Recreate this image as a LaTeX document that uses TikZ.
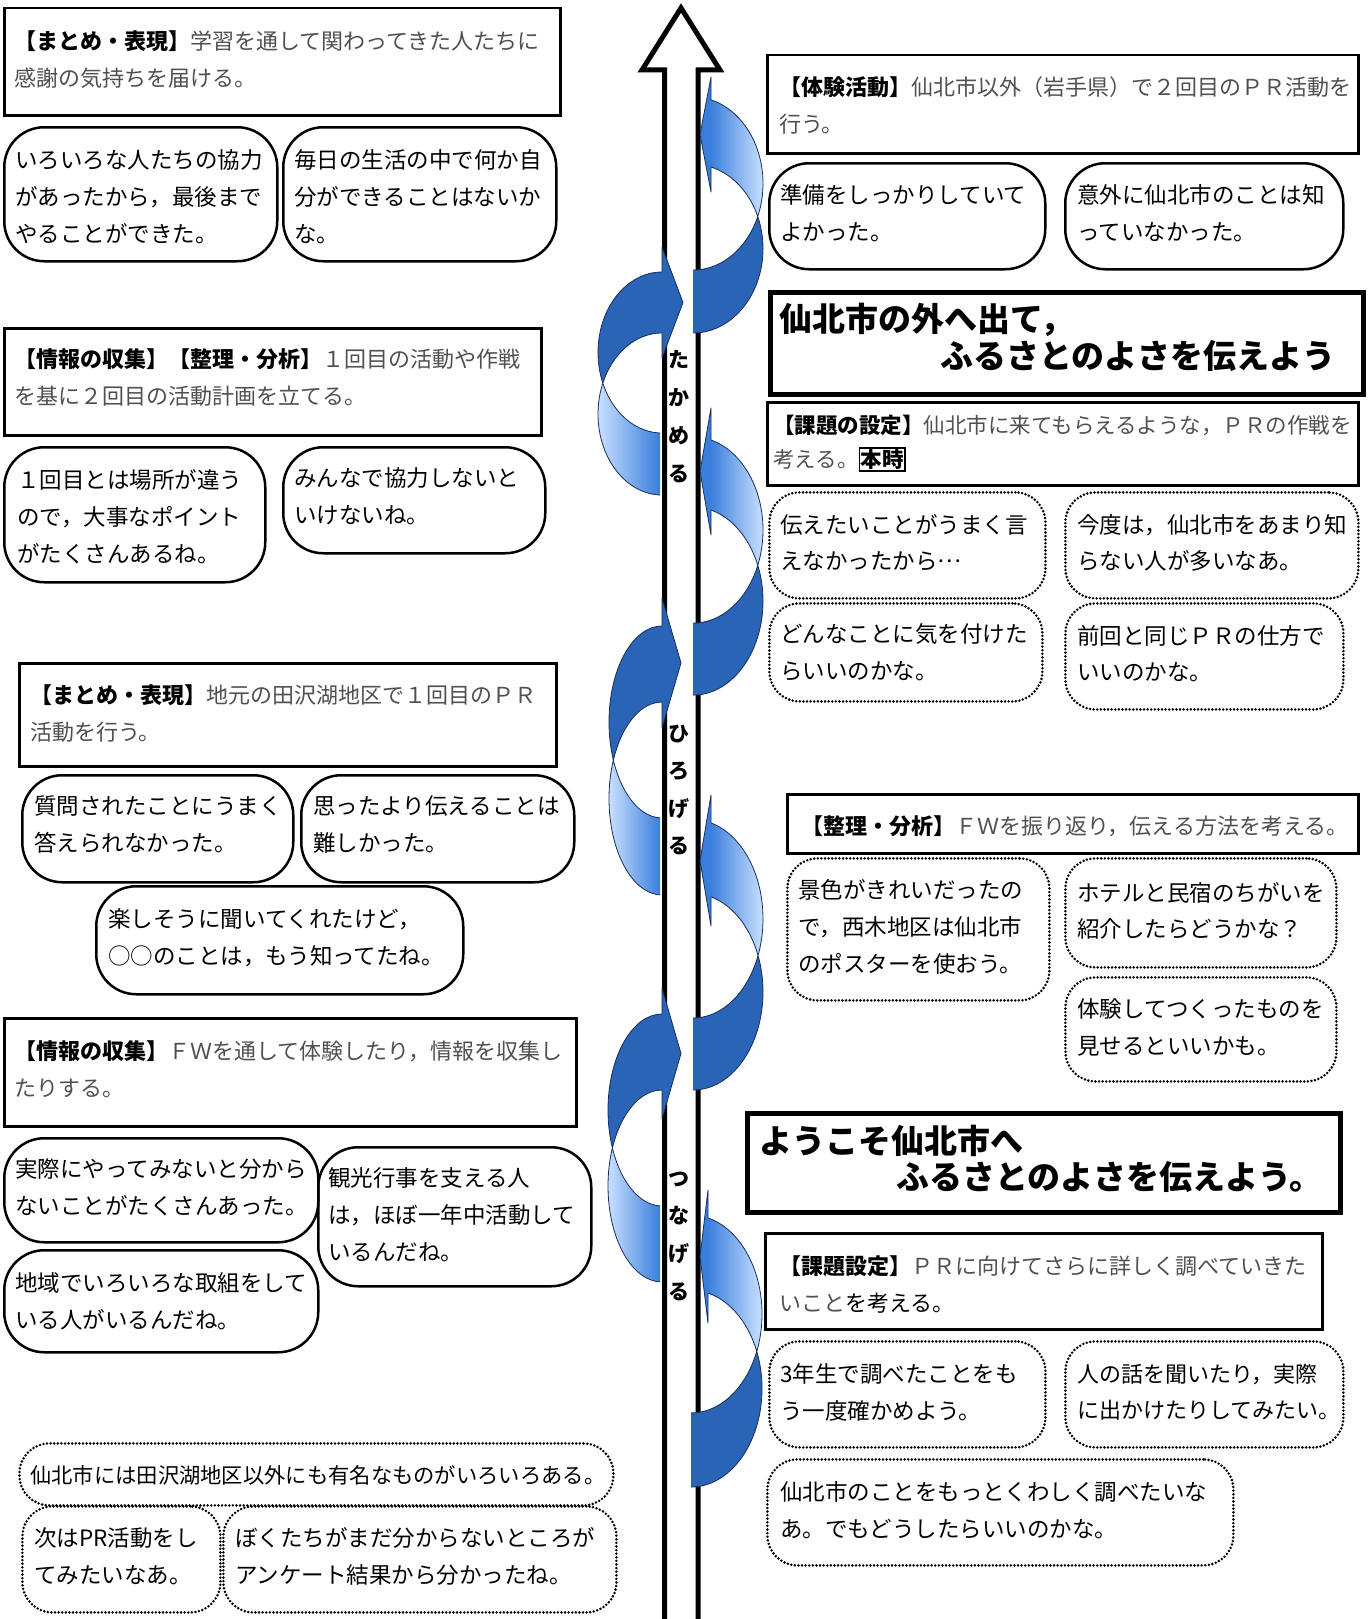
\documentclass[tikz,border=0pt]{standalone}
\usepackage{fontspec}
\setmainfont{Noto Sans CJK JP}
\definecolor{dkb}{RGB}{41,100,182}
\definecolor{stb}{RGB}{58,126,220}
\definecolor{ltb}{RGB}{200,224,255}
\definecolor{olc}{RGB}{25,45,90}
\definecolor{desc}{RGB}{80,80,80}
\newcommand\myfs[2]{\fontsize{#1}{#2}\selectfont}
\newcommand\myst{\rule{0pt}{0.95em}}
\newcommand\mylab[1]{{\bfseries\color{black}#1}}
\newcommand\bx[6]{\node[#1, minimum width=#5pt, minimum height=#6pt, anchor=north west, inner sep=0pt] (#2) at (#3,#4) {};}
\newcommand\tn[5]{\node[#1] (#2) at (#3,#4) {\myst #5};}
\newcommand\setarw[8]{\def\aL{#1}\def\aW{#2}\def\aCa{#3}\def\aRa{#4}\def\aCb{#5}\def\aRb{#6}\def\aXh{#7}\def\aXt{#8}}
\newcommand\eA{(\aL,\aCa) ellipse [x radius=\aW*1pt, y radius=\aRa*1pt]}
\newcommand\eB{(\aL,\aCb) ellipse [x radius=\aW*1pt, y radius=\aRb*1pt]}
\newcommand\rarw[4]{%
 \filldraw[fill=stb, draw=olc, line width=0.8pt, line join=round] (\aXh,#1) -- (#3,{(#1+#2)/2}) -- (\aXh,#2) -- cycle;
 \begin{scope}[even odd rule]
  \clip (\aXh-0.8,0) rectangle (900,1700);
  \clip \eA;
  \clip (500,0) rectangle (900,1700) \eB;
  \shade[left color=stb, right color=ltb] (\aXh-0.8,0) rectangle ({\aL+\aW},1700);
 \end{scope}
 \begin{scope}[even odd rule]
  \clip (\aXt,0) rectangle (900,1700);
  \clip \eB;
  \clip (500,0) rectangle (900,1700) \eA;
  \fill[dkb] (\aXt,0) rectangle (900,1700);
 \end{scope}
 \begin{scope}
  \clip (\aXh,0) rectangle (900,#4) (\aXt,#4) rectangle (900,1700);
  \draw[olc, line width=0.8pt] \eA \eB;
 \end{scope}
}
\newcommand\larw[4]{%
 \filldraw[fill=dkb, draw=olc, line width=0.8pt, line join=round] (\aXh,#1) -- (#3,{(#1+#2)/2}) -- (\aXh,#2) -- cycle;
 \begin{scope}[even odd rule]
  \clip (400,0) rectangle (\aXh+0.8,1700);
  \clip \eA;
  \clip (400,0) rectangle (800,1700) \eB;
  \fill[dkb] (400,0) rectangle (\aXh+0.8,1700);
 \end{scope}
 \begin{scope}[even odd rule]
  \clip (400,0) rectangle (\aXt,1700);
  \clip \eB;
  \clip (400,0) rectangle (800,1700) \eA;
  \shade[left color=ltb, right color=stb] ({\aL-\aW},0) rectangle (\aXt,1700);
 \end{scope}
 \begin{scope}
  \clip (400,0) rectangle (\aXh,#4) (400,#4) rectangle (\aXt,1700);
  \draw[olc, line width=0.8pt] \eA \eB;
 \end{scope}
}
\tikzset{
 rbox/.style={draw, line width=2.5pt},
 bub/.style={draw, line width=2.5pt, rounded corners=40pt},
 dbub/.style={draw, line width=2.8pt, dash pattern=on 0pt off 3.6pt, line cap=round, rounded corners=30pt},
 tbox/.style={draw, line width=5pt},
 tx/.style={anchor=north west, inner sep=0pt, align=left, font={\myfs{22.5}{37}}},
 dx/.style={anchor=north west, inner sep=0pt, align=left, text=desc, font={\myfs{22}{37}}},
 px/.style={anchor=north west, inner sep=0pt, align=left, font={\myfs{22.5}{36.5}}},
 ttl/.style={anchor=north west, inner sep=0pt, align=left, font={\bfseries\myfs{33}{37}}},
 vt/.style={anchor=north, inner sep=0pt, align=center, font={\bfseries\myfs{21}{38}}},
}
\begin{document}
\begin{tikzpicture}[x=1pt,y=-1pt]
\useasboundingbox (0,0) rectangle (1368,1619);
\fill[white] (0,0) rectangle (1368,1619);

% ---------- left column boxes ----------
\bx{rbox}{m1}{3}{7}{556}{107}
\bx{bub}{bA}{3}{126}{273}{134}
\bx{bub}{bB}{282}{126}{273}{134}
\bx{rbox}{m2}{3}{327}{537}{107}
\bx{bub}{bC}{3}{446}{261}{135}
\bx{bub}{bD}{282}{446}{262}{106}
\bx{rbox}{m3}{18}{662}{537}{103}
\bx{bub}{bE}{21}{774}{271}{107}
\bx{bub}{bF}{300}{774}{273}{107}
\bx{bub}{bG}{95}{885}{367}{108}
\bx{rbox}{m4}{3}{1017}{572}{108}
\bx{bub}{bH}{3}{1137}{314}{104}
\bx{bub}{bI}{317}{1146}{273}{139}
\bx{bub}{bJ}{3}{1249}{314}{102}
\bx{dbub}{dK}{18}{1442}{594}{62}
\bx{dbub}{dL}{21}{1505}{198}{106}
\bx{dbub}{dM}{222}{1505}{393}{106}

% ---------- right column boxes ----------
\bx{rbox}{n1}{766}{54}{591}{98}
\bx{bub}{bR2}{768}{162}{276}{106}
\bx{bub}{bR3}{1064}{162}{278}{106}
\bx{tbox}{T1}{768}{290}{593}{102}
\bx{rbox}{n2}{766}{401}{591}{83}
\bx{dbub}{dR6}{768}{491}{276}{106}
\bx{dbub}{dR7}{1064}{491}{293}{106}
\bx{dbub}{dR8}{768}{602}{273}{98}
\bx{dbub}{dR9}{1064}{602}{278}{106}
\bx{rbox}{n3}{786}{793}{571}{59}
\bx{dbub}{dR11}{786}{857}{262}{142}
\bx{dbub}{dR12}{1064}{857}{271}{109}
\bx{dbub}{dR13}{1064}{976}{271}{104}
\bx{tbox}{T2}{745}{1111}{593}{99}
\bx{rbox}{n4}{764}{1232}{557}{96}
\bx{dbub}{dR16}{768}{1340}{276}{106}
\bx{dbub}{dR17}{1064}{1340}{278}{106}
\bx{dbub}{dR18}{766}{1458}{466}{106}

% ---------- left texts ----------
\tn{dx}{t1}{14}{28.5}{\mylab{【まとめ・表現】}学習を通して関わってきた人たちに\\感謝の気持ちを届ける。}
\tn{tx}{tA}{15}{147}{いろいろな人たちの協力\\があったから，最後まで\\やることができた。}
\tn{tx}{tB}{294}{147}{毎日の生活の中で何か自\\分ができることはないか\\な。}
\tn{dx}{t2}{14}{346.5}{\mylab{【情報の収集】【整理・分析】}１回目の活動や作戦\\を基に２回目の活動計画を立てる。}
\tn{tx}{tC}{17}{467}{１回目とは場所が違う\\ので，大事なポイント\\がたくさんあるね。}
\tn{tx}{tD}{294}{465}{みんなで協力しないと\\いけないね。}
\tn{dx}{t3}{30}{682.5}{\mylab{【まとめ・表現】}地元の田沢湖地区で１回目のＰＲ\\活動を行う。}
\tn{tx}{tE}{34}{793}{質問されたことにうまく\\答えられなかった。}
\tn{tx}{tF}{313}{793}{思ったより伝えることは\\難しかった。}
\tn{tx}{tG}{108}{906}{楽しそうに聞いてくれたけど，\\○○のことは，もう知ってたね。}
\tn{dx}{t4}{14}{1038.5}{\mylab{【情報の収集】}ＦＷを通して体験したり，情報を収集し\\たりする。}
\tn{tx}{tH}{15}{1156}{実際にやってみないと分から\\ないことがたくさんあった。}
\tn{tx}{tI}{328}{1165}{観光行事を支える人\\は，ほぼ一年中活動して\\いるんだね。}
\tn{tx}{tJ}{15}{1270}{地域でいろいろな取組をして\\いる人がいるんだね。}
\tn{px, font={\myfs{21.3}{36}}}{tK}{30}{1463}{仙北市には田沢湖地区以外にも有名なものがいろいろある。}
\tn{px}{tL}{34}{1525}{次はPR活動をし\\てみたいなあ。}
\tn{px}{tM}{235}{1525}{ぼくたちがまだ分からないところが\\アンケート結果から分かったね。}

% ---------- right texts ----------
\tn{dx}{r1}{779}{74.5}{\mylab{【体験活動】}仙北市以外（岩手県）で２回目のＰＲ活動を\\行う。}
\tn{tx}{r2}{780}{182}{準備をしっかりしていて\\よかった。}
\tn{tx}{r3}{1077}{182}{意外に仙北市のことは知\\っていなかった。}
\tn{ttl}{tt1}{779}{300.2}{仙北市の外へ出て，\\\hspace*{161pt}ふるさとのよさを伝えよう}
\tn{dx, font={\myfs{21.5}{34}}}{r5}{773}{412.8}{\mylab{【課題の設定】}仙北市に来てもらえるような，ＰＲの作戦を\\考える。{\setlength\fboxsep{0.5pt}\setlength\fboxrule{1.8pt}\color{black}\fbox{\bfseries 本時}}}
\tn{tx, font={\myfs{22.5}{36}}}{r6}{780}{512}{伝えたいことがうまく言\\えなかったから\raisebox{0.3em}{…}}
\tn{tx, font={\myfs{22.5}{36}}}{r7}{1077}{512}{今度は，仙北市をあまり知\\らない人が多いなあ。}
\tn{tx}{r8}{780}{621}{どんなことに気を付けた\\らいいのかな。}
\tn{tx, font={\myfs{22.5}{36}}}{r9}{1077}{623}{前回と同じＰＲの仕方で\\いいのかな。}
\tn{dx}{r10}{801}{813.5}{\mylab{【整理・分析】}ＦＷを振り返り，伝える方法を考える。}
\tn{tx}{r11}{798}{877}{景色がきれいだったの\\で，西木地区は仙北市\\のポスターを使おう。}
\tn{tx, font={\myfs{22.5}{36}}}{r12}{1077}{880}{ホテルと民宿のちがいを\\紹介したらどうかな？}
\tn{tx}{r13}{1077}{996}{体験してつくったものを\\見せるといいかも。}
\tn{ttl, font={\bfseries\myfs{33}{36}}}{tt2}{759}{1122}{ようこそ仙北市へ\\\hspace*{137pt}ふるさとのよさを伝えよう。}
\tn{dx}{r15}{779}{1253.5}{\mylab{【課題設定】}ＰＲに向けてさらに詳しく調べていきた\\いこと{\color{black}を考える。}}
\tn{px}{r16}{780}{1361}{3年生で調べたことをも\\う一度確かめよう。}
\tn{px, font={\myfs{22}{36}}}{r17}{1077}{1361}{人の話を聞いたり，実際\\に出かけたりしてみたい。}
\tn{px, font={\myfs{22.5}{37}}}{r18}{780}{1479}{仙北市のことをもっとくわしく調べたいな\\あ。でもどうしたらいいのかな。}

% ---------- main arrow ----------
\draw[line width=5pt, fill=white] (664.5,1625) -- (664.5,70) -- (642,70) -- (681,8) -- (720,70) -- (698,70) -- (698,1625);

% ---------- spiral arrows ----------
\setarw{693}{70}{183.5}{86.5}{248.6}{84.4}{711}{693}\rarw{77}{192}{700}{216}
\setarw{693}{70}{530}{93.1}{601}{94.1}{711}{693}\rarw{408}{535}{700}{566}
\setarw{693}{70}{918.8}{99.2}{991.8}{98.2}{711}{693}\rarw{795}{926}{700}{955}
\setarw{691}{71}{1314}{98.9}{1388.6}{98.4}{708}{691}\rarw{1190}{1323}{700}{1351}
\setarw{662}{64}{352.5}{80.5}{414}{81}{662}{660}\larw{247}{358}{683}{383}
\setarw{662}{53}{722}{96}{798.5}{96.5}{662}{660}\larw{598}{728}{681}{760}
\setarw{662}{54}{1110}{96}{1186}{96}{662}{660}\larw{988}{1119}{681}{1148}

% ---------- vertical words ----------
\tn{vt}{v1}{679}{347}{た\\か\\め\\る}
\tn{vt, font={\bfseries\myfs{21}{37.5}}}{v2}{679}{721}{ひ\\ろ\\げ\\る}
\tn{vt, font={\bfseries\myfs{21}{37.7}}}{v3}{679}{1166}{つ\\な\\げ\\る}
\end{tikzpicture}
\end{document}
